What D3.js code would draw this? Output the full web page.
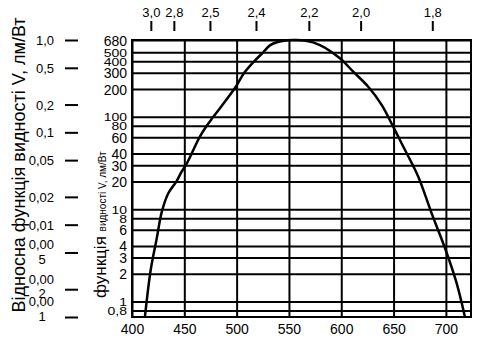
<!DOCTYPE html>
<html>
<head>
<meta charset="utf-8">
<script src="https://cdn.jsdelivr.net/npm/d3@7"></script>
<style>
  html, body { margin: 0; padding: 0; background: #fff; }
  svg { display: block; font-family: "Liberation Sans", Arial, sans-serif; }
  .grid line { stroke: #000; stroke-width: 2px; }
  .grid path { display: none; }
  .tickTxt { fill: #000; }
</style>
</head>
<body>
<svg id="chart" width="482" height="352"></svg>
<script>
// крива відносної видності, перерахована в лм/Вт
const lambdaNm = [412.4, 417.9, 423.6, 428.4, 434.7, 442.5, 447.5, 451.5, 457, 464.5, 471.4,
  477.7, 497.7, 507.3, 516.8, 525.4, 531.8, 540, 548, 556, 565, 579.6, 598.7, 611.4, 625.8,
  638.6, 649.6, 659.2, 673.5, 686.3, 699.7, 710.2, 718.1];
const lumLmW = [0.69, 2.21, 4.8, 9.3, 14.9, 20, 25.6, 30, 40, 60, 80,
  100, 200, 300, 400, 500, 595, 650, 676, 680, 670, 600, 431, 309, 212,
  135, 78.4, 47.7, 22.6, 9.07, 3.64, 1.59, 0.69];

// осі
const waveTicks = [400, 450, 500, 550, 600, 650, 700];
const energyLabels = ["3,0", "2,8", "2,5", "2,4", "2,2", "2,0", "1,8"];
const energyAtNm = [418, 440, 474.5, 518.5, 569, 618.5, 687];
const lmTicks = [680, 500, 400, 300, 200, 100, 80, 60, 40, 30, 20, 10, 8, 6, 4, 3, 2, 1, 0.8];
const lmLabels = ["680", "500", "400", "300", "200", "100", "80", "60", "40", "30", "20",
  "10", "8", "6", "4", "3", "2", "1", "0,8"];
const relTicks = [1, 0.5, 0.2, 0.1, 0.05, 0.02, 0.01, 0.005, 0.002, 0.001];
const relLabels = [["1,0"], ["0,5"], ["0,2"], ["0,1"], ["0,05"], ["0,02"], ["0,01"],
  ["0,00", "5"], ["0,00", "2"], ["0,00", "1"]];

const svg = d3.select("#chart");
const box = { left: 132, right: 471, top: 40, bottom: 317 };

const x = d3.scaleLinear().domain([400, 724]).range([box.left, box.right]);
const y = d3.scaleLog().domain([0.68, 680]).range([box.bottom, box.top]);
const yRel = d3.scaleLog().domain([0.001, 1]).range([box.bottom, box.top]);

// горизонтальна сітка + підписи лм/Вт
const gy = svg.append("g")
  .attr("class", "grid")
  .attr("transform", `translate(${box.left},0)`)
  .call(d3.axisLeft(y).tickValues(lmTicks)
    .tickSize(-(box.right - box.left))
    .tickPadding(5)
    .tickFormat((d, i) => lmLabels[i]));

gy.selectAll("text")
  .attr("class", "tickTxt")
  .style("font-size", "14px")
  .attr("dy", null)
  .attr("dominant-baseline", "central")
  .attr("transform", (d, i) => {
    // тісні підписи стискаємо по вертикалі, як в оригіналі
    const yy = y(d);
    const prev = i > 0 ? Math.abs(yy - y(lmTicks[i - 1])) : 99;
    const next = i < lmTicks.length - 1 ? Math.abs(y(lmTicks[i + 1]) - yy) : 99;
    const k = Math.min(1, Math.min(prev, next) / 11);
    return `scale(1,${k})`;
  });

// вертикальна сітка + підписи довжини хвилі
const gx = svg.append("g")
  .attr("class", "grid")
  .attr("transform", `translate(0,${box.bottom})`)
  .call(d3.axisBottom(x).tickValues(waveTicks)
    .tickSize(-(box.bottom - box.top))
    .tickPadding(7)
    .tickFormat(d3.format("d")));

gx.selectAll("text")
  .attr("class", "tickTxt")
  .style("font-size", "14px");

// рамка
svg.append("rect")
  .attr("x", box.left).attr("y", box.top)
  .attr("width", box.right - box.left).attr("height", box.bottom - box.top)
  .attr("fill", "none").attr("stroke", "#000").attr("stroke-width", 2);

// верхня вісь, еВ
const gTop = svg.append("g")
  .attr("class", "grid")
  .attr("transform", "translate(0,21)")
  .call(d3.axisBottom(x).tickValues(energyAtNm)
    .tickSize(10).tickSizeOuter(10)
    .tickFormat((d, i) => energyLabels[i]));
gTop.select("path.domain")
  .style("display", null)
  .attr("fill", "none").attr("stroke", "#000").attr("stroke-width", 2);
gTop.selectAll("text")
  .attr("class", "tickTxt")
  .style("font-size", "13px")
  .attr("y", -4)
  .attr("dy", null);

// ліва вісь, відносні значення
const gRel = svg.append("g")
  .attr("class", "grid")
  .attr("transform", "translate(65,0)")
  .call(d3.axisRight(yRel).tickValues(relTicks)
    .tickSize(13).tickSizeOuter(0)
    .tickFormat(""));
gRel.select("path.domain")
  .style("display", null)
  .attr("fill", "none").attr("stroke", "#000").attr("stroke-width", 2);

// зсув дворядкових підписів (внизу вони тісно стоять)
const wrapShift = [-1, -3.5, -9];

gRel.selectAll(".tick")
  .append("text")
  .attr("class", "tickTxt")
  .style("font-size", "13px")
  .each(function (d, i) {
    const lines = relLabels[i];
    const t = d3.select(this);
    if (lines.length === 1) {
      t.attr("x", -11).attr("text-anchor", "end")
        .attr("y", 4.5)
        .text(lines[0]);
    } else {
      const s = wrapShift[i - 7] || 0;
      t.append("tspan").attr("x", -11).attr("y", s - 2.5)
        .attr("text-anchor", "end").text(lines[0]);
      t.append("tspan").attr("x", -23).attr("y", s + 12)
        .attr("text-anchor", "middle").text(lines[1]);
    }
  });

// крива
svg.append("clipPath").attr("id", "clipBox")
  .append("rect")
  .attr("x", box.left).attr("y", box.top - 3)
  .attr("width", box.right - box.left).attr("height", box.bottom - box.top + 3);

const line = d3.line()
  .x((d, i) => x(lambdaNm[i]))
  .y((d) => y(d))
  .curve(d3.curveCatmullRom.alpha(0.5));

svg.append("path")
  .datum(lumLmW)
  .attr("clip-path", "url(#clipBox)")
  .attr("d", line)
  .attr("fill", "none")
  .attr("stroke", "#000")
  .attr("stroke-width", 2.5);

// підписи осей
svg.append("text")
  .attr("transform", "translate(25,165) rotate(-90)")
  .attr("text-anchor", "middle")
  .style("font-size", "18px")
  .text("Відносна функція видності V, лм/Вт");

const inner = svg.append("text")
  .attr("transform", "translate(106,298) rotate(-90)")
  .attr("text-anchor", "start");
inner.append("tspan").style("font-size", "17px").text("функція ");
inner.append("tspan").style("font-size", "10px").text("видності V, лм/Вт");
</script>
</body>
</html>
